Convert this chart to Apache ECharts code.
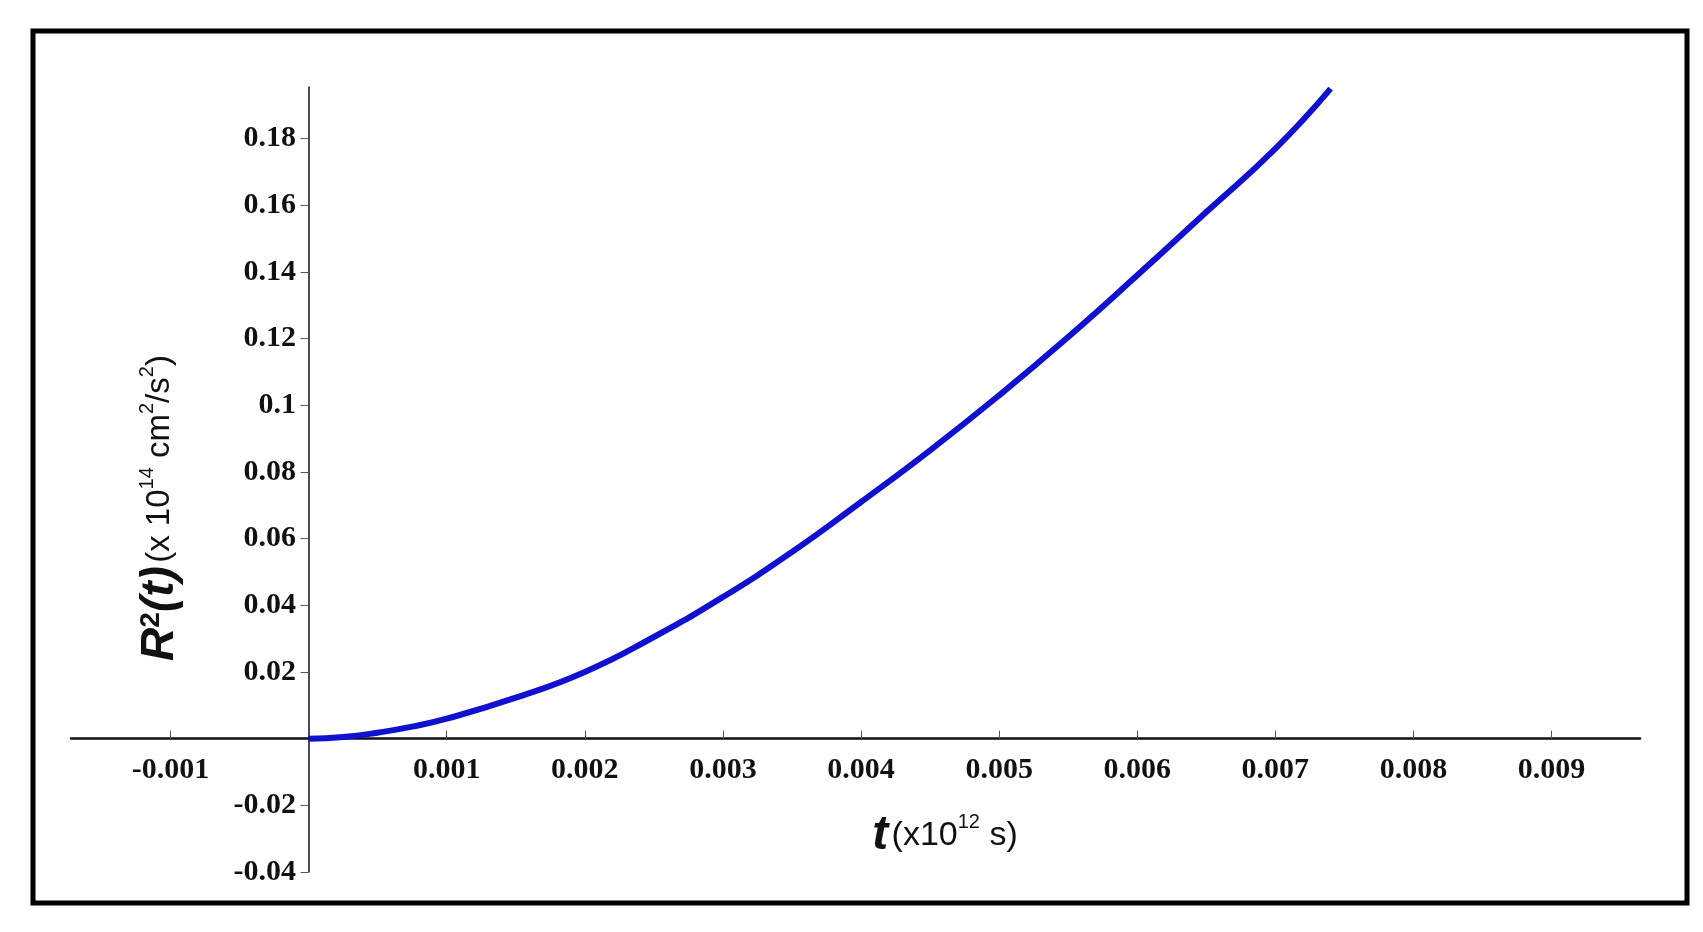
<!DOCTYPE html>
<html><head><meta charset="utf-8">
<script src="https://cdn.jsdelivr.net/npm/echarts@6/dist/echarts.min.js"></script>
<style>html,body{margin:0;background:#fff}#c{width:1703px;height:932px}</style>
</head><body><div id="c"></div>
<script>
const tValues = [0, 0.00025, 0.0005, 0.00075, 0.001, 0.0015, 0.002, 0.0025, 0.003, 0.0035, 0.004, 0.0045, 0.005, 0.0055, 0.006, 0.0065, 0.007, 0.0074];
const r2Values = [0, 0.0005, 0.0018, 0.0036, 0.006, 0.0123, 0.0200, 0.0305, 0.0425, 0.0560, 0.0710, 0.0865, 0.1030, 0.1205, 0.1390, 0.1580, 0.1770, 0.1950];
const xTicks = [-0.001, 0.001, 0.002, 0.003, 0.004, 0.005, 0.006, 0.007, 0.008, 0.009];
const yTicks = [-0.04, -0.02, 0.02, 0.04, 0.06, 0.08, 0.1, 0.12, 0.14, 0.16, 0.18];
const chart = echarts.init(document.getElementById('c'));
const lblFont = {fontFamily:'Liberation Serif', fontWeight:'bold', fontSize:30, color:'#111'};
chart.setOption({
  animation:false,
  grid:{left:71,right:63,top:87,bottom:60,containLabel:false},
  xAxis:{type:'value',min:-0.00172,max:0.00964,
    axisLine:{onZero:true,lineStyle:{color:'#111',width:2.5}},
    axisTick:{customValues:xTicks,length:8,inside:true,lineStyle:{color:'#555',width:1}},
    axisLabel:Object.assign({customValues:xTicks,margin:-117,formatter:v=>String(+v.toFixed(3))},lblFont),
    splitLine:{show:false}},
  yAxis:{type:'value',min:-0.04,max:0.1955,
    axisLine:{onZero:true,lineStyle:{color:'#111',width:1.5}},
    axisTick:{customValues:yTicks,length:8,lineStyle:{color:'#555',width:1}},
    axisLabel:Object.assign({customValues:yTicks,margin:-225,formatter:v=>String(+v.toFixed(2))},lblFont),
    splitLine:{show:false}},
  series:[{type:'line',data:tValues.map((t,i)=>[t,r2Values[i]]),smooth:true,showSymbol:false,
    lineStyle:{color:'#1010d0',width:6},z:1}],
  graphic:[
    {type:'rect',shape:{x:33,y:31,width:1654,height:872},style:{fill:'none',stroke:'#000',lineWidth:5},z:-1},
    {type:'text',x:160,y:508,rotation:Math.PI/2,style:{
      text:'{b|R}{bs|2}{b|(t)} {n|(x 10}{s|14}{n| cm}{s|2}{n|/s}{s|2}{n|)}',
      align:'center',verticalAlign:'middle',
      rich:{b:{fontFamily:'Liberation Sans',fontWeight:'bold',fontStyle:'italic',fontSize:46,fill:'#111'},
        bs:{fontFamily:'Liberation Sans',fontWeight:'bold',fontSize:28,verticalAlign:'top',fill:'#111'},
        n:{fontFamily:'Liberation Sans',fontSize:33,fill:'#111'},
        s:{fontFamily:'Liberation Sans',fontSize:20,verticalAlign:'top',fill:'#111'}}}},
    {type:'text',x:945,y:836,style:{
      text:'{b|t} {n|(x10}{s|12}{n| s)}',align:'center',verticalAlign:'middle',
      rich:{b:{fontFamily:'Liberation Sans',fontWeight:'bold',fontStyle:'italic',fontSize:48,fill:'#111'},
        n:{fontFamily:'Liberation Sans',fontSize:34,fill:'#111'},
        s:{fontFamily:'Liberation Sans',fontSize:20,verticalAlign:'top',fill:'#111'}}}}
  ]
});
</script></body></html>
